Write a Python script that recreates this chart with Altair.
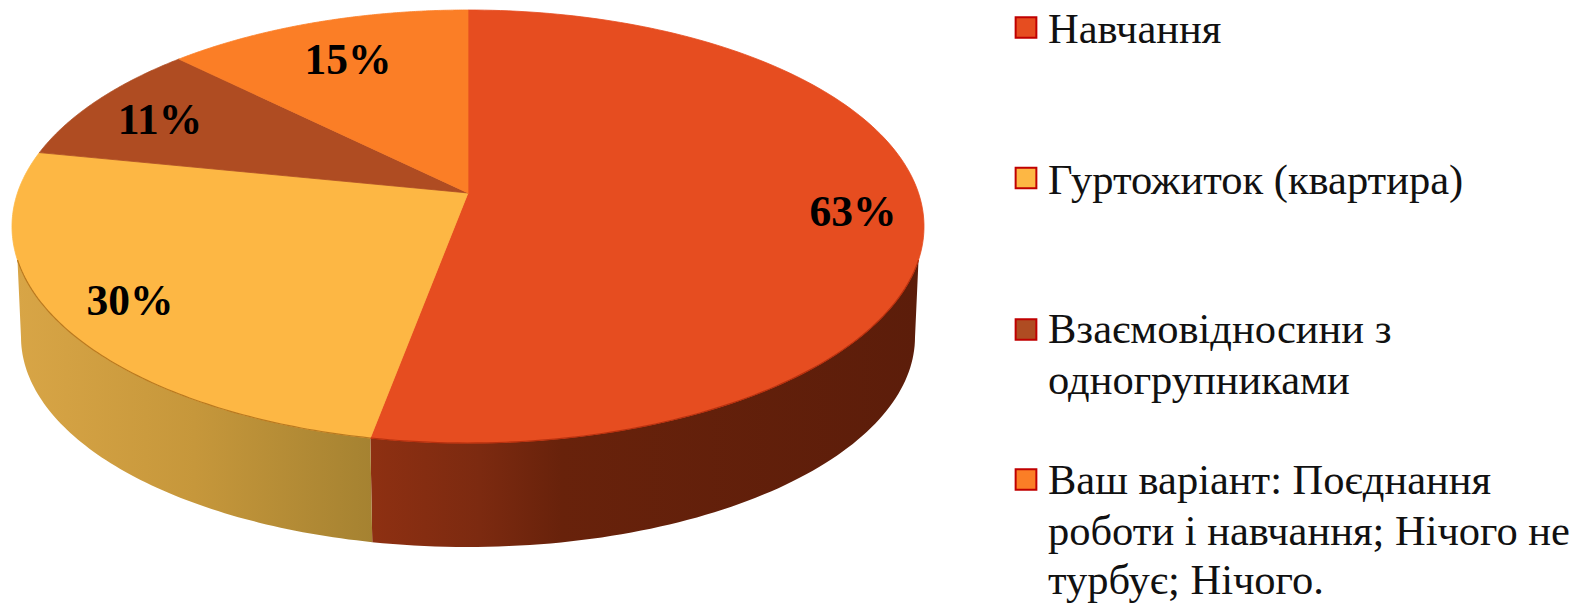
import numpy as np
import pandas as pd
import altair as alt

categories = ["Навчання", "Гуртожиток (квартира)", "Взаємовідносини з одногрупниками",
              "Ваш варіант: Поєднання роботи і навчання; Нічого не турбує; Нічого."]
values = [63, 30, 11, 15]
labels = ["63%", "30%", "11%", "15%"]
colors = ["#E64D20", "#FDB744", "#AF4C22", "#FB7E26"]
label_x = [853, 130, 160, 348]
label_y = [226, 315, 134, 74]
legend_lines = [
    ["Навчання"],
    ["Гуртожиток (квартира)"],
    ["Взаємовідносини з", "одногрупниками"],
    ["Ваш варіант: Поєднання", "роботи і навчання; Нічого не", "турбує; Нічого."],
]
legend_y = [27.5, 178, 329.5, 479.5]
line_y = [[43], [193.5], [343, 394], [494, 544.5, 594]]

# ---- pie geometry (picture pixels) ----
TOP = dict(cx=468.0, cy=226.5, rx=456.0, ry=216.5)
BOT = dict(cx=468.0, cy=337.0, rx=447.0, ry=210.0)
K = 0.155  # perspective: the pie's centre is shifted upward on the ellipse


def rim(theta_deg, e):
    t = np.radians(np.asarray(theta_deg, dtype=float))
    d = 1 + K * np.cos(t)
    X = np.sin(t) * np.sqrt(1 - K ** 2) / d
    Y = (np.cos(t) + K) / d
    return e["cx"] + e["rx"] * X, e["cy"] - e["ry"] * Y


def poly(xs, ys):
    xs = np.append(xs, xs[0])
    ys = np.append(ys, ys[0])
    return pd.DataFrame({"x": xs, "y": ys, "o": np.arange(len(xs))})


X = alt.X("x:Q", scale=alt.Scale(domain=[8, 1581]), axis=None)
Y = alt.Y("y:Q", scale=alt.Scale(domain=[596, 8]), axis=None)


def shape(df, fill, stroke=None, sw=0.8):
    kw = dict(fill=fill, strokeWidth=sw, stroke=stroke if stroke else "transparent",
              interpolate="linear", clip=False)
    return alt.Chart(df).mark_line(**kw).encode(x=X, y=Y, order="o:Q")


def edge(theta, color, width=1.2):
    xs, ys = rim(theta, TOP)
    df = pd.DataFrame({"x": xs, "y": ys, "o": np.arange(len(xs))})
    return alt.Chart(df).mark_line(stroke=color, strokeWidth=width, clip=False).encode(x=X, y=Y, order="o:Q")


cum = np.cumsum([0] + values) / sum(values) * 360.0

# Side walls
seam = cum[1]
right_top = np.linspace(107.6, seam, 80)
right_bot = np.linspace(seam, 99.0, 80)
x1, y1 = rim(right_top, TOP)
x2, y2 = rim(right_bot, BOT)
wall_r = poly(np.r_[x1, x2], np.r_[y1, y2])

left_top = np.linspace(seam, 252.4, 80)
left_bot = np.linspace(261.0, seam, 80)
x1, y1 = rim(left_top, TOP)
x2, y2 = rim(left_bot, BOT)
wall_l = poly(np.r_[x1, x2], np.r_[y1, y2])

grad_r = alt.Gradient(gradient="linear", x1=0, x2=1, y1=0, y2=0, stops=[
    alt.GradientStop(offset=0, color="#8E3012"),
    alt.GradientStop(offset=0.2, color="#7C2A10"),
    alt.GradientStop(offset=0.35, color="#68220B"),
    alt.GradientStop(offset=1, color="#5C1D0A"),
])
grad_l = alt.Gradient(gradient="linear", x1=0, x2=1, y1=0, y2=0, stops=[
    alt.GradientStop(offset=0, color="#D8A546"),
    alt.GradientStop(offset=0.5, color="#C6973B"),
    alt.GradientStop(offset=1, color="#A58231"),
])

layers = [shape(wall_r, grad_r), shape(wall_l, grad_l)]

# Top face slices
apex_x, apex_y = TOP["cx"], TOP["cy"] - TOP["ry"] * K
for i, c in enumerate(colors):
    th = np.linspace(cum[i], cum[i + 1], 160)
    xs, ys = rim(th, TOP)
    layers.append(shape(poly(np.r_[apex_x, xs], np.r_[apex_y, ys]), c, stroke=c))

# Darker edge where the top face meets the walls
layers.append(edge(np.linspace(107.6, seam, 80), "#B8300E"))
layers.append(edge(np.linspace(seam, 252.4, 80), "#B9791F"))

# Percent labels
lab_df = pd.DataFrame({"x": label_x, "y": label_y, "t": labels})
layers.append(alt.Chart(lab_df).mark_text(font="Liberation Serif", fontSize=43.5, fontWeight="bold",
                                          color="#000000", align="center", baseline="alphabetic")
              .encode(x=X, y=Y, text="t:N"))

# Legend swatches
sw_df = pd.DataFrame({"x": [1026] * 4, "y": legend_y, "c": colors})
layers.append(alt.Chart(sw_df).mark_square(size=430, opacity=1, stroke="#C00000", strokeWidth=2)
              .encode(x=X, y=Y, fill=alt.Fill("c:N", scale=None)))

# Legend text
rows = [{"x": 1048, "y": y, "t": t}
        for lines, ys in zip(legend_lines, line_y) for t, y in zip(lines, ys)]
layers.append(alt.Chart(pd.DataFrame(rows)).mark_text(font="Liberation Serif", fontSize=42.5, color="#111111",
                                                      align="left", baseline="alphabetic")
              .encode(x=X, y=Y, text="t:N"))

chart = alt.layer(*layers).properties(width=1573, height=588, padding=0, background="white") \
    .configure_view(stroke=None)
chart.save("out.html", embed_options={"renderer": "svg", "actions": False})
